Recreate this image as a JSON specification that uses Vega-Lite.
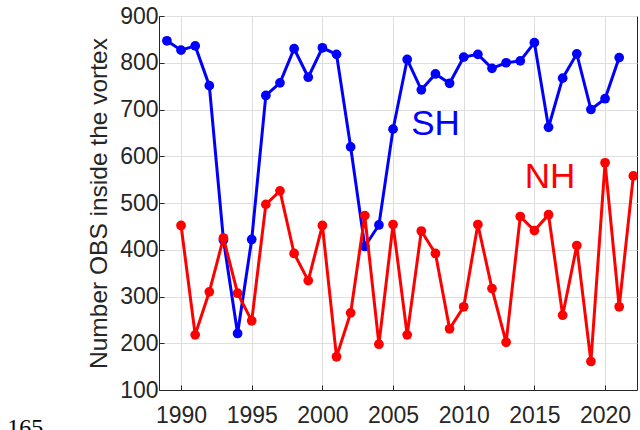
{
  "$schema": "https://vega.github.io/schema/vega-lite/v6.json",
  "width": 478,
  "height": 374,
  "autosize": "none",
  "padding": {"left": 159, "top": 16, "right": 3, "bottom": 40},
  "background": "white",
  "config": {
    "view": {"stroke": "#262626", "strokeWidth": 1},
    "font": "Liberation Sans",
    "axis": {
      "labelFont": "Liberation Sans",
      "titleFont": "Liberation Sans",
      "labelFontSize": 23,
      "titleFontSize": 24.5,
      "labelColor": "#262626",
      "titleColor": "#262626",
      "titleFontWeight": "normal",
      "domainColor": "#262626",
      "tickColor": "#262626",
      "gridColor": "#dedede",
      "gridOpacity": 1
    }
  },
  "datasets": {
    "obs": [
      {"year": 1989, "hemi": "SH", "n": 847},
      {"year": 1990, "hemi": "SH", "n": 827},
      {"year": 1991, "hemi": "SH", "n": 836},
      {"year": 1992, "hemi": "SH", "n": 751},
      {"year": 1993, "hemi": "SH", "n": 421},
      {"year": 1994, "hemi": "SH", "n": 221},
      {"year": 1995, "hemi": "SH", "n": 422},
      {"year": 1996, "hemi": "SH", "n": 730},
      {"year": 1997, "hemi": "SH", "n": 757},
      {"year": 1998, "hemi": "SH", "n": 830},
      {"year": 1999, "hemi": "SH", "n": 769},
      {"year": 2000, "hemi": "SH", "n": 832},
      {"year": 2001, "hemi": "SH", "n": 818},
      {"year": 2002, "hemi": "SH", "n": 620},
      {"year": 2003, "hemi": "SH", "n": 407},
      {"year": 2004, "hemi": "SH", "n": 453},
      {"year": 2005, "hemi": "SH", "n": 658},
      {"year": 2006, "hemi": "SH", "n": 807},
      {"year": 2007, "hemi": "SH", "n": 742},
      {"year": 2008, "hemi": "SH", "n": 776},
      {"year": 2009, "hemi": "SH", "n": 756},
      {"year": 2010, "hemi": "SH", "n": 812},
      {"year": 2011, "hemi": "SH", "n": 818},
      {"year": 2012, "hemi": "SH", "n": 788},
      {"year": 2013, "hemi": "SH", "n": 800},
      {"year": 2014, "hemi": "SH", "n": 804},
      {"year": 2015, "hemi": "SH", "n": 843},
      {"year": 2016, "hemi": "SH", "n": 662},
      {"year": 2017, "hemi": "SH", "n": 767},
      {"year": 2018, "hemi": "SH", "n": 819},
      {"year": 2019, "hemi": "SH", "n": 700},
      {"year": 2020, "hemi": "SH", "n": 723},
      {"year": 2021, "hemi": "SH", "n": 811},
      {"year": 1990, "hemi": "NH", "n": 452},
      {"year": 1991, "hemi": "NH", "n": 218},
      {"year": 1992, "hemi": "NH", "n": 310},
      {"year": 1993, "hemi": "NH", "n": 425},
      {"year": 1994, "hemi": "NH", "n": 307},
      {"year": 1995, "hemi": "NH", "n": 248},
      {"year": 1996, "hemi": "NH", "n": 497},
      {"year": 1997, "hemi": "NH", "n": 526},
      {"year": 1998, "hemi": "NH", "n": 392},
      {"year": 1999, "hemi": "NH", "n": 334},
      {"year": 2000, "hemi": "NH", "n": 452},
      {"year": 2001, "hemi": "NH", "n": 171},
      {"year": 2002, "hemi": "NH", "n": 265},
      {"year": 2003, "hemi": "NH", "n": 473},
      {"year": 2004, "hemi": "NH", "n": 198},
      {"year": 2005, "hemi": "NH", "n": 454},
      {"year": 2006, "hemi": "NH", "n": 218},
      {"year": 2007, "hemi": "NH", "n": 440},
      {"year": 2008, "hemi": "NH", "n": 392},
      {"year": 2009, "hemi": "NH", "n": 231},
      {"year": 2010, "hemi": "NH", "n": 278},
      {"year": 2011, "hemi": "NH", "n": 454},
      {"year": 2012, "hemi": "NH", "n": 317},
      {"year": 2013, "hemi": "NH", "n": 202},
      {"year": 2014, "hemi": "NH", "n": 471},
      {"year": 2015, "hemi": "NH", "n": 441},
      {"year": 2016, "hemi": "NH", "n": 475},
      {"year": 2017, "hemi": "NH", "n": 260},
      {"year": 2018, "hemi": "NH", "n": 409},
      {"year": 2019, "hemi": "NH", "n": 161},
      {"year": 2020, "hemi": "NH", "n": 586},
      {"year": 2021, "hemi": "NH", "n": 278},
      {"year": 2022, "hemi": "NH", "n": 558}
    ],
    "labels": [
      {"year": 2008.0, "n": 646, "text": "SH", "hemi": "SH"},
      {"year": 2016.1, "n": 532, "text": "NH", "hemi": "NH"}
    ]
  },
  "encoding": {
    "x": {
      "field": "year",
      "type": "quantitative",
      "scale": {"domain": [1988.44, 2022.26], "nice": false, "zero": false},
      "axis": {
        "title": null,
        "values": [1990, 1995, 2000, 2005, 2010, 2015, 2020],
        "format": "d",
        "grid": true,
        "tickSize": -5,
        "labelPadding": 19,
        "labelFlush": false
      }
    },
    "y": {
      "field": "n",
      "type": "quantitative",
      "scale": {"domain": [100, 900], "nice": false, "zero": false},
      "axis": {
        "title": "Number OBS inside the vortex",
        "values": [100, 200, 300, 400, 500, 600, 700, 800, 900],
        "grid": true,
        "tickSize": -5,
        "labelPadding": 6,
        "titlePadding": 8
      }
    }
  },
  "layer": [
    {
      "data": {"name": "obs"},
      "transform": [{"filter": "datum.hemi === 'SH'"}],
      "mark": {"type": "line", "color": "#0000ff", "strokeWidth": 3, "point": {"filled": true, "size": 95, "color": "#0000ff", "opacity": 1}}
    },
    {
      "data": {"name": "obs"},
      "transform": [{"filter": "datum.hemi === 'NH'"}],
      "mark": {"type": "line", "color": "#ff0000", "strokeWidth": 3, "point": {"filled": true, "size": 95, "color": "#ff0000", "opacity": 1}}
    },
    {
      "data": {"name": "labels"},
      "mark": {"type": "text", "fontSize": 35, "align": "center", "baseline": "alphabetic", "font": "Liberation Sans"},
      "encoding": {
        "text": {"field": "text"},
        "color": {"field": "hemi", "type": "nominal", "scale": {"domain": ["SH", "NH"], "range": ["#0000ff", "#ff0000"]}, "legend": null}
      }
    },
    {
      "data": {"values": [{"year": 1977.7, "n": 3, "text": "165"}]},
      "mark": {"type": "text", "fontSize": 24, "align": "left", "baseline": "alphabetic", "font": "Liberation Serif", "color": "#000000", "clip": false},
      "encoding": {"text": {"field": "text"}}
    }
  ]
}
